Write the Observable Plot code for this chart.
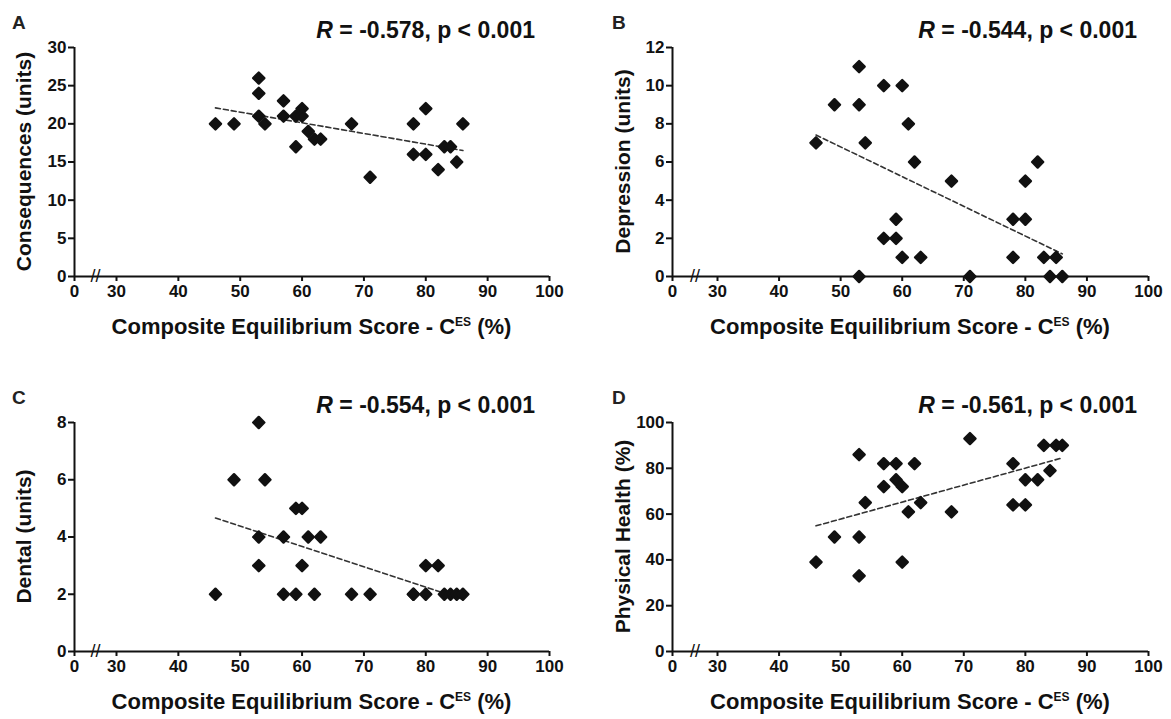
<!DOCTYPE html>
<html><head><meta charset="utf-8">
<script src="https://cdn.jsdelivr.net/npm/d3@7"></script>
<script src="https://cdn.jsdelivr.net/npm/@observablehq/plot@0.6"></script>
<style>
body{margin:0;background:#fff;}
#fig{position:relative;width:1171px;height:719px;overflow:hidden;font-family:"Liberation Sans",Arial,sans-serif;}
#fig svg{position:absolute;}
</style></head><body><div id="fig"></div>
<script>
// ---- data ----
const xTicks = [0, 30, 40, 50, 60, 70, 80, 90, 100];
const xTitle = "Composite Equilibrium Score - C";
const xTitleSup = "ES";
const xTitleEnd = " (%)";

const cesA = [46,49,53,53,53,54,57,57,59,59,60,60,61,62,63,68,71,78,78,80,80,82,83,84,85,86];
const consequences = [20,20,26,24,21,20,23,21,17,21,22,21,19,18,18,20,13,20,16,22,16,14,17,17,15,20];

const cesB = [46,49,53,53,53,54,57,57,59,59,60,60,61,62,63,68,71,78,78,80,80,82,83,84,85,86];
const depression = [7,9,11,9,0,7,10,2,3,2,10,1,8,6,1,5,0,3,1,5,3,6,1,0,1,0];

const cesC = [46,49,53,53,53,54,57,57,59,59,60,60,61,62,63,68,71,78,78,80,80,82,83,84,85,86];
const dental = [2,6,8,4,3,6,4,2,5,2,5,3,4,2,4,2,2,2,2,3,2,3,2,2,2,2];

const cesD = [46,49,53,53,53,54,57,57,59,59,60,60,61,62,63,68,71,78,78,80,80,82,83,84,85,86];
const physicalHealth = [39,50,86,50,33,65,82,72,82,75,72,39,61,82,65,61,93,82,64,64,75,75,90,79,90,90];

const letters = ["A", "B", "C", "D"];
const yTitles = ["Consequences (units)", "Depression (units)", "Dental (units)", "Physical Health (%)"];
const rValues = ["-0.578", "-0.544", "-0.554", "-0.561"];
const yTicksA = [0, 5, 10, 15, 20, 25, 30];
const yTicksB = [0, 2, 4, 6, 8, 10, 12];
const yTicksC = [0, 2, 4, 6, 8];
const yTicksD = [0, 20, 40, 60, 80, 100];
const breakAt = 15; // position of the axis-break mark between 0 and 30

// ---- layout ----
const leftCol = {left: 0, ax0: 74, ax30: 116, ax100: 549, letterX: 12, rEnd: 535, yTitleX: 30.5};
const rightCol = {left: 585, ax0: 87, ax30: 132, ax100: 563, letterX: 27, rEnd: 552, yTitleX: 44.5};
const panels = [
  {col: leftCol, top: 0, xs: cesA, ys: consequences, yTicks: yTicksA, i: 0},
  {col: rightCol, top: 0, xs: cesB, ys: depression, yTicks: yTicksB, i: 1},
  {col: leftCol, top: 375, xs: cesC, ys: dental, yTicks: yTicksC, i: 2},
  {col: rightCol, top: 375, xs: cesD, ys: physicalHealth, yTicks: yTicksD, i: 3}
];
const W = 585, H = 345, mTop = 47, mBottom = 69;
const fig = document.getElementById("fig");

for (const p of panels) {
  const c = p.col;
  const data = p.xs.map((x, k) => ({x, y: p.ys[k]}));
  const yMax = p.yTicks[p.yTicks.length - 1];
  const chart = Plot.plot({
    width: W, height: H,
    marginLeft: c.ax0, marginRight: W - c.ax100, marginTop: mTop, marginBottom: mBottom,
    style: {fontFamily: '"Liberation Sans", Arial, sans-serif', fontSize: "17px", fontWeight: "bold", color: "#111", background: "transparent"},
    x: {type: "linear", domain: [0, 30, 100], range: [c.ax0, c.ax30, c.ax100]},
    y: {domain: [0, yMax]},
    marks: [
      Plot.axisX({ticks: xTicks, tickSize: 5, tickPadding: 3, label: null, strokeWidth: 2, tickFormat: d => String(d)}),
      Plot.axisY({ticks: p.yTicks, tickSize: 6, tickPadding: 2, label: null, strokeWidth: 2, tickFormat: d => String(d)}),
      Plot.ruleY([0], {strokeWidth: 2, stroke: "#111"}),
      Plot.ruleX([0], {strokeWidth: 2, stroke: "#111"}),
      Plot.text(["//"], {x: () => breakAt, y: () => 0, text: d => d, fontSize: 18, fontWeight: "normal", fill: "#111", lineAnchor: "middle", textAnchor: "middle"}),
      Plot.linearRegressionY(data, {x: "x", y: "y", ci: 0, stroke: "#333", strokeWidth: 1.6, strokeDasharray: "5,3"}),
      Plot.dot(data, {x: "x", y: "y", symbol: "diamond2", r: 5, fill: "#111", stroke: "#111", strokeWidth: 2.4, strokeLinejoin: "round"})
    ]
  });
  chart.style.left = c.left + "px";
  chart.style.top = p.top + "px";
  fig.appendChild(chart);
}

// ---- text overlay (panel letters, statistics, axis titles) ----
const ov = d3.select(fig).append("svg")
  .attr("width", 1171).attr("height", 719)
  .style("left", "0px").style("top", "0px")
  .style("font-family", '"Liberation Sans", Arial, sans-serif')
  .style("font-weight", "bold").attr("fill", "#111");

for (const p of panels) {
  const c = p.col, ox = c.left, oy = p.top;
  ov.append("text").attr("x", ox + c.letterX).attr("y", oy + 29)
    .attr("font-size", 19).attr("fill", "#222").text(letters[p.i]);
  const r = ov.append("text").attr("x", ox + c.rEnd).attr("y", oy + 38)
    .attr("font-size", 23).attr("text-anchor", "end");
  r.append("tspan").attr("font-style", "italic").text("R");
  r.append("tspan").text(" = " + rValues[p.i] + ", p < 0.001");
  const xt = ov.append("text").attr("x", ox + (c.ax0 + c.ax100) / 2).attr("y", oy + 334)
    .attr("font-size", 22).attr("text-anchor", "middle");
  xt.append("tspan").text(xTitle);
  xt.append("tspan").attr("font-size", 12).attr("dy", -8).text(xTitleSup);
  xt.append("tspan").attr("dy", 8).text(xTitleEnd);
  ov.append("text")
    .attr("transform", `translate(${ox + c.yTitleX},${oy + (mTop + H - mBottom) / 2}) rotate(-90)`)
    .attr("font-size", 21).attr("text-anchor", "middle").text(yTitles[p.i]);
}
</script>
</body></html>
